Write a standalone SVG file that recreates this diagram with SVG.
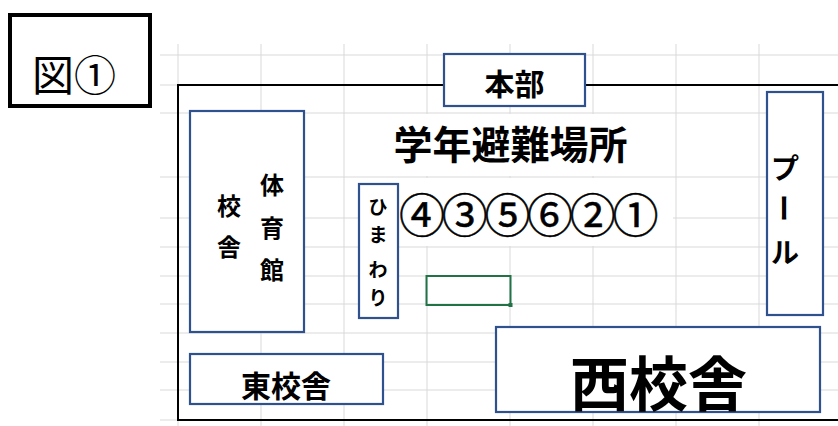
<svg xmlns="http://www.w3.org/2000/svg" width="838" height="426" viewBox="0 0 838 426">
<style>
.grid line{stroke:#d9d9d9;stroke-width:1}
.box{fill:#fff;stroke:#2f528f;stroke-width:2.2}
.t{font-family:"Noto Sans CJK JP","Noto Sans CJK SC",sans-serif;font-weight:bold;fill:#000;text-anchor:middle;dominant-baseline:central}
</style>
<rect width="838" height="426" fill="#fff"/>
<g class="grid" id="grid">
<line x1="178" y1="44" x2="178" y2="426"/>
<line x1="261" y1="44" x2="261" y2="426"/>
<line x1="344" y1="44" x2="344" y2="426"/>
<line x1="427" y1="44" x2="427" y2="426"/>
<line x1="510" y1="44" x2="510" y2="426"/>
<line x1="593" y1="44" x2="593" y2="426"/>
<line x1="676" y1="44" x2="676" y2="426"/>
<line x1="759" y1="44" x2="759" y2="426"/>
<line x1="160" y1="55" x2="838" y2="55"/>
<line x1="160" y1="85" x2="838" y2="85"/>
<line x1="160" y1="113" x2="838" y2="113"/>
<line x1="160" y1="177" x2="838" y2="177"/>
<line x1="160" y1="218" x2="838" y2="218"/>
<line x1="160" y1="247" x2="838" y2="247"/>
<line x1="160" y1="276" x2="838" y2="276"/>
<line x1="160" y1="304" x2="838" y2="304"/>
<line x1="160" y1="333" x2="838" y2="333"/>
<line x1="160" y1="362" x2="838" y2="362"/>
<line x1="160" y1="390" x2="838" y2="390"/>
<line x1="160" y1="420" x2="838" y2="420"/>
</g>
<g id="frame"><rect x="178" y="85" width="700" height="335" fill="none" stroke="#000" stroke-width="2"/></g>
<g id="fig-label">
<rect x="10" y="15" width="140" height="91" fill="#fff" stroke="#000" stroke-width="4"/>
<text x="74" y="72" class="t" style="font-weight:normal;font-size:42px">図①</text>
</g>
<g id="honbu">
<rect class="box" x="444" y="54" width="141" height="52"/>
<text x="514.5" y="82" class="t" style="font-size:30px">本部</text>
</g>
<g id="title">
<rect x="352" y="114" width="320" height="62" fill="#fff"/>
<text x="510.5" y="142" class="t" style="font-size:39px">学年避難場所</text>
</g>
<g id="order">
<rect x="399" y="178" width="274" height="68" fill="#fff"/>
<text x="399" y="212" class="t" style="font-weight:normal;font-size:46px;letter-spacing:-3.3px;text-anchor:start;stroke:#000;stroke-width:0.5">④③⑤⑥②①</text>
</g>
<g id="taiikukan">
<rect class="box" x="190" y="111" width="114" height="221"/>
<text class="t" style="font-size:24px" x="272" y="183">体</text>
<text class="t" style="font-size:24px" x="272" y="226">育</text>
<text class="t" style="font-size:24px" x="272" y="268">館</text>
<text class="t" style="font-size:24px" x="229" y="204">校</text>
<text class="t" style="font-size:24px" x="229" y="245">舎</text>
</g>
<g id="himawari">
<rect class="box" x="359" y="184" width="39" height="134"/>
<text class="t" style="font-size:19px" x="378" y="205">ひ</text>
<text class="t" style="font-size:19px" x="378" y="233">ま</text>
<text class="t" style="font-size:19px" x="378" y="268">わ</text>
<text class="t" style="font-size:19px" x="378" y="296">り</text>
</g>
<g id="pool">
<rect class="box" x="767" y="92" width="56" height="223"/>
<text class="t" style="font-size:28px" x="785" y="167">プ</text>
<text class="t" style="font-size:28px" x="785" y="208" transform="rotate(90 785 208)">ー</text>
<text class="t" style="font-size:28px" x="785" y="251">ル</text>
</g>
<g id="higashi">
<rect class="box" x="190" y="354" width="193" height="50"/>
<text class="t" style="font-size:30px" x="286" y="383.5">東校舎</text>
</g>
<g id="nishi">
<rect class="box" x="496" y="327" width="324" height="85"/>
<text class="t" style="font-size:59px" x="658.5" y="380.5">西校舎</text>
</g>
<g id="selection">
<rect x="426.5" y="276" width="84" height="29" fill="none" stroke="#217346" stroke-width="2"/>
<rect x="508.5" y="303" width="4" height="4" fill="#217346"/>
</g>
</svg>
